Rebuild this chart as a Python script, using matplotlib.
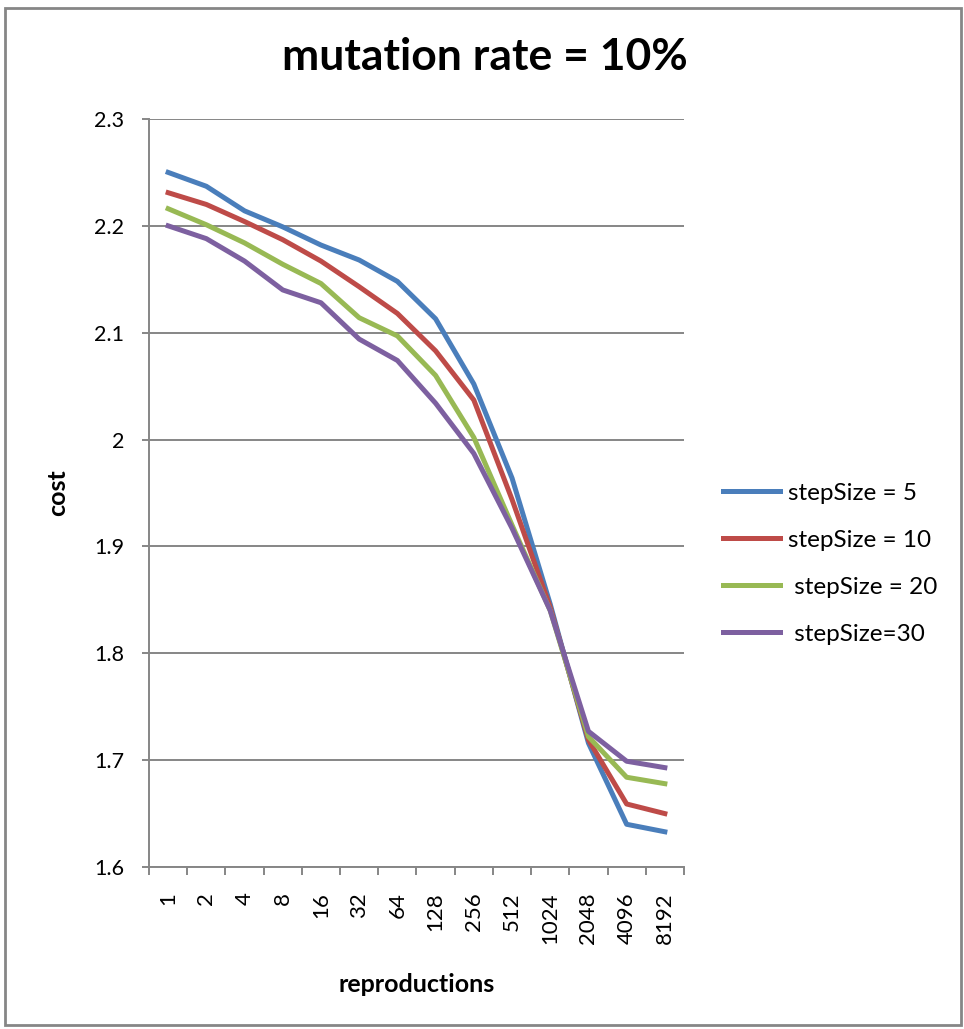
import numpy as np
import matplotlib.pyplot as plt
from matplotlib.patches import Rectangle
from matplotlib.ticker import FixedLocator, FuncFormatter

plt.rcParams['font.family'] = ['Lato', 'DejaVu Sans']

reproductions = ["1", "2", "4", "8", "16", "32", "64", "128", "256", "512",
                 "1024", "2048", "4096", "8192"]

step5 = [2.250, 2.237, 2.214, 2.199, 2.182, 2.168, 2.148, 2.113, 2.052, 1.964,
         1.846, 1.716, 1.640, 1.633]
step10 = [2.231, 2.220, 2.204, 2.187, 2.167, 2.143, 2.118, 2.083, 2.037, 1.944,
          1.843, 1.719, 1.659, 1.650]
step20 = [2.216, 2.201, 2.184, 2.164, 2.146, 2.114, 2.097, 2.060, 2.002, 1.920,
          1.840, 1.722, 1.684, 1.678]
step30 = [2.200, 2.188, 2.167, 2.140, 2.128, 2.094, 2.074, 2.034, 1.987, 1.917,
          1.840, 1.727, 1.699, 1.693]

series = [
    ("stepSize = 5", step5, "#4A7EBB"),
    ("stepSize = 10", step10, "#BE4B48"),
    (" stepSize = 20", step20, "#98B954"),
    (" stepSize=30", step30, "#7D60A0"),
]

fig = plt.figure(figsize=(9.64, 10.29), dpi=100)
ax = fig.add_axes([0.1546, 0.1574, 0.5549, 0.727])

x = np.arange(len(reproductions))
for name, vals, col in series:
    ax.plot(x, vals, color=col, lw=3.6, label=name, solid_joinstyle='round')

ax.set_xlim(-0.5, len(reproductions) - 0.5)
ax.set_ylim(1.6, 2.3)

# gridlines and axes in Excel gray
ax.yaxis.set_major_locator(FixedLocator(np.arange(1.6, 2.31, 0.1)))
ax.yaxis.set_major_formatter(FuncFormatter(lambda v, p: f"{round(v, 1):g}"))
ax.grid(axis='y', color='#868686', lw=1.4)
ax.set_axisbelow(True)
for s in ['top', 'right']:
    ax.spines[s].set_visible(False)
for s in ['left', 'bottom']:
    ax.spines[s].set_color('#868686')
    ax.spines[s].set_linewidth(1.4)

# category boundaries get the tick marks, centres get the labels
ax.xaxis.set_major_locator(FixedLocator(np.arange(-0.5, len(reproductions), 1.0)))
ax.xaxis.set_major_formatter(FuncFormatter(lambda v, p: ""))
ax.xaxis.set_minor_locator(FixedLocator(x))
ax.set_xticklabels(reproductions, minor=True, rotation=90, fontsize=16, va='top')
ax.tick_params(axis='x', which='minor', length=0, pad=18)
ax.tick_params(axis='x', which='major', length=6, width=1.4, color='#868686')
ax.tick_params(axis='y', length=5, width=1.4, color='#868686', labelsize=15.5, pad=13)

ax.set_xlabel("reproductions", fontsize=18, fontweight='bold', va='baseline')
ax.xaxis.set_label_coords(0.5, -0.167)
ax.set_ylabel("cost", fontsize=18, fontweight='bold', va='center')
ax.yaxis.set_label_coords(-0.1716, 0.5)

fig.text(0.503, 0.932, "mutation rate = 10%", ha='center', va='baseline',
         fontsize=32, fontweight='bold')

leg = fig.legend(loc='upper left', bbox_to_anchor=(0.750, 0.531), frameon=False,
                 fontsize=17.5, handlelength=2.34, handletextpad=0.33,
                 labelspacing=1.07, borderpad=0, borderaxespad=0)
for h in leg.get_lines():
    h.set_linewidth(3.6)

fig.patches.append(Rectangle((0.0052, 0.0039), 0.9917, 0.988, transform=fig.transFigure,
                             fill=False, edgecolor='#868686', lw=2))

fig.savefig("out.png", dpi=100)
